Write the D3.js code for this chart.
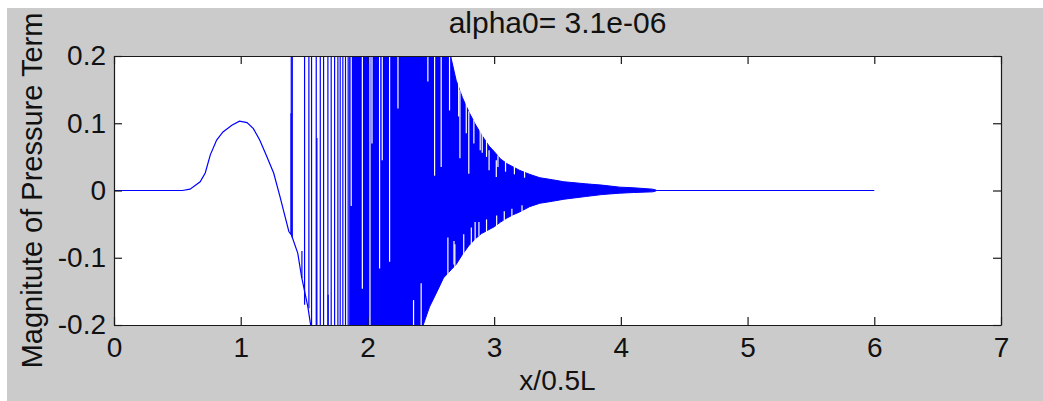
<!DOCTYPE html>
<html>
<head>
<meta charset="utf-8">
<script src="https://cdn.jsdelivr.net/npm/d3@7"></script>
<style>
  body { margin: 0; background: #ffffff; }
  svg text { font-family: "Liberation Sans", Arial, sans-serif; }
</style>
</head>
<body>
<div id="chart"></div>
<script>
// axis ticks
var xTicks = [0, 1, 2, 3, 4, 5, 6, 7];
var yTicks = [-0.2, -0.1, 0, 0.1, 0.2];

// smooth hump before the oscillations start (x/0.5L, value)
var curveX = [0, 0.54, 0.60, 0.68, 0.72, 0.76, 0.81, 0.86, 0.93, 0.99, 1.05, 1.10, 1.15, 1.20, 1.26, 1.31, 1.35, 1.38, 1.40, 1.45, 1.48, 1.53, 1.56];
var curveY = [0, 0, 0.002, 0.013, 0.026, 0.053, 0.075, 0.087, 0.097, 0.103, 0.101, 0.092, 0.075, 0.053, 0.026, -0.009, -0.039, -0.061, -0.066, -0.093, -0.128, -0.173, -0.21];

// single vertical strokes where the oscillation is still sparse (0.3 / -0.3 = off the axes)
var spikeX  = [1.397, 1.399, 1.407, 1.483, 1.504, 1.538, 1.559, 1.596, 1.601, 1.628, 1.654, 1.688, 1.690, 1.714, 1.741, 1.767, 1.785, 1.806, 1.827, 1.848];
var spikeLo = [-0.065, -0.065, -0.07, -0.13, -0.17, -0.175, -0.3, -0.3, -0.3, -0.3, -0.3, -0.3, -0.3, -0.3, -0.3, -0.3, -0.3, -0.3, -0.3, -0.3];
var spikeHi = [0.115, 0.3, 0.3, -0.09, 0.3, 0.3, 0.3, 0.3, 0.078, 0.3, 0.3, 0.3, -0.155, 0.3, 0.3, 0.3, 0.3, 0.3, 0.3, 0.3];

// envelope of the dense oscillation
var bandX  = [1.86, 2.42, 2.44, 2.49, 2.55, 2.60, 2.64, 2.66, 2.70, 2.75, 2.80, 2.85, 2.90, 2.96, 3.00, 3.05, 3.10, 3.15, 3.20, 3.28, 3.36, 3.46, 3.55, 3.72, 3.85, 3.99, 4.10, 4.25, 4.28];
var bandHi = [0.3, 0.3, 0.3, 0.3, 0.3, 0.3, 0.3, 0.197, 0.164, 0.138, 0.117, 0.099, 0.083, 0.066, 0.058, 0.047, 0.040, 0.035, 0.030, 0.024, 0.019, 0.016, 0.013, 0.010, 0.008, 0.005, 0.004, 0.002, 0.0005];
var bandLo = [-0.3, -0.3, -0.2, -0.173, -0.15, -0.13, -0.122, -0.118, -0.11, -0.095, -0.082, -0.072, -0.064, -0.058, -0.054, -0.047, -0.041, -0.036, -0.032, -0.024, -0.019, -0.016, -0.013, -0.009, -0.006, -0.004, -0.003, -0.002, -0.0005];

// white gaps (aliasing) and edge notches inside the dense band
var gapX  = [1.872, 1.96, 2.02, 2.036, 2.096, 2.117, 2.175, 2.241, 2.364, 2.424, 2.477, 2.53, 2.582, 2.635, 2.648, 2.683, 2.73, 2.80, 2.85, 2.906, 2.96, 3.017,
             2.72, 2.78, 2.84, 2.89, 2.94, 3.03, 3.09, 3.16, 3.24,
             2.69, 2.76, 2.82, 2.88, 2.94, 3.02, 3.08, 3.14, 3.22];
var gapHi = [0.3, 0.3, 0.3, 0.3, 0.3, 0.3, 0.3, 0.3, -0.163, -0.138, 0.3, 0.3, 0.3, -0.07, 0.3, -0.075, 0.15, 0.118, -0.047, 0.085, 0.06, 0.045,
             0.16, 0.13, 0.105, 0.09, 0.075, 0.052, 0.043, 0.036, 0.029,
             -0.08, -0.065, -0.055, -0.047, -0.043, -0.037, -0.031, -0.027, -0.022];
var gapLo = [-0.023, -0.146, -0.3, 0.07, -0.116, 0.045, -0.106, 0.122, -0.3, -0.3, 0.162, 0.022, 0.035, -0.133, 0.119, -0.11, 0.048, 0.025, -0.074, 0.056, 0.03, 0.02,
             0.11, 0.085, 0.07, 0.06, 0.05, 0.035, 0.028, 0.024, 0.019,
             -0.115, -0.095, -0.08, -0.068, -0.062, -0.053, -0.045, -0.039, -0.032];

// flat tail
var tailX = [4.28, 6.0];
var tailY = [0, 0];

var width = 1043, height = 401;
var margin = {top: 56, right: 42, bottom: 76, left: 114};
var plotW = width - margin.left - margin.right;
var plotH = height - margin.top - margin.bottom;
var blue = "#0000ff";

var svg = d3.select("#chart").append("svg")
    .attr("width", width)
    .attr("height", height);

// grey figure background (thin white strip top/left like the screenshot)
svg.append("rect")
    .attr("x", 7).attr("y", 8)
    .attr("width", width - 7).attr("height", height - 8)
    .attr("fill", "#cbcbcb");

var g = svg.append("g")
    .attr("transform", "translate(" + margin.left + "," + margin.top + ")");

g.append("rect")
    .attr("width", plotW).attr("height", plotH)
    .attr("fill", "#ffffff");

var x = d3.scaleLinear().domain([0, 7]).range([0, plotW]);
var y = d3.scaleLinear().domain([-0.2, 0.2]).range([plotH, 0]);

g.append("clipPath").attr("id", "clip")
    .append("rect").attr("width", plotW).attr("height", plotH);

var plot = g.append("g").attr("clip-path", "url(#clip)");

var line = d3.line()
    .x(function (d) { return x(d[0]); })
    .y(function (d) { return y(d[1]); });

// hump
plot.append("path")
    .datum(d3.zip(curveX, curveY))
    .attr("d", line)
    .attr("fill", "none")
    .attr("stroke", blue)
    .attr("stroke-width", 1.2);

// sparse strokes
plot.selectAll(".spike").data(d3.range(spikeX.length))
    .enter().append("line")
    .attr("class", "spike")
    .attr("x1", function (i) { return x(spikeX[i]); })
    .attr("x2", function (i) { return x(spikeX[i]); })
    .attr("y1", function (i) { return y(spikeLo[i]); })
    .attr("y2", function (i) { return y(spikeHi[i]); })
    .attr("stroke", blue)
    .attr("stroke-width", 1.2);

// dense band
var area = d3.area()
    .x(function (d) { return x(d[0]); })
    .y0(function (d) { return y(d[2]); })
    .y1(function (d) { return y(d[1]); });

plot.append("path")
    .datum(d3.zip(bandX, bandHi, bandLo))
    .attr("d", area)
    .attr("fill", blue)
    .attr("stroke", blue)
    .attr("stroke-width", 1);

plot.selectAll(".gap").data(d3.range(gapX.length))
    .enter().append("line")
    .attr("class", "gap")
    .attr("x1", function (i) { return x(gapX[i]); })
    .attr("x2", function (i) { return x(gapX[i]); })
    .attr("y1", function (i) { return y(gapLo[i]); })
    .attr("y2", function (i) { return y(gapHi[i]); })
    .attr("stroke", "#ffffff")
    .attr("stroke-width", 1.2);

plot.append("path")
    .datum(d3.zip(tailX, tailY))
    .attr("d", line)
    .attr("fill", "none")
    .attr("stroke", blue)
    .attr("stroke-width", 1.2);

// axes, ticks pointing inwards on all four sides
var fmt = function (d) { return String(d); };

g.append("g")
    .attr("transform", "translate(0," + plotH + ")")
    .call(d3.axisBottom(x).tickValues(xTicks).tickFormat(fmt).tickSizeInner(-8).tickSizeOuter(0).tickPadding(12));
g.append("g")
    .call(d3.axisTop(x).tickValues(xTicks).tickFormat("").tickSizeInner(-8).tickSizeOuter(0));
g.append("g")
    .call(d3.axisLeft(y).tickValues(yTicks).tickFormat(fmt).tickSizeInner(-8).tickSizeOuter(0).tickPadding(8));
g.append("g")
    .attr("transform", "translate(" + plotW + ",0)")
    .call(d3.axisRight(y).tickValues(yTicks).tickFormat("").tickSizeInner(-8).tickSizeOuter(0));

g.selectAll(".domain, .tick line").attr("stroke", "#1a1a1a").attr("stroke-width", 1.2);
g.selectAll(".tick text")
    .attr("fill", "#111")
    .style("font-size", "28px")
    .style("font-family", "'Liberation Sans', Arial, sans-serif");

// title and labels
svg.append("text")
    .attr("x", margin.left + plotW / 2)
    .attr("y", 33)
    .attr("text-anchor", "middle")
    .attr("fill", "#111")
    .style("font-size", "30px")
    .text("alpha0= 3.1e-06");

svg.append("text")
    .attr("x", margin.left + plotW / 2)
    .attr("y", 390)
    .attr("text-anchor", "middle")
    .attr("fill", "#111")
    .style("font-size", "28px")
    .text("x/0.5L");

svg.append("text")
    .attr("transform", "translate(42," + (margin.top + plotH / 2) + ") rotate(-90)")
    .attr("text-anchor", "middle")
    .attr("fill", "#111")
    .style("font-size", "29px")
    .text("Magnitute of Pressure Term");
</script>
</body>
</html>
